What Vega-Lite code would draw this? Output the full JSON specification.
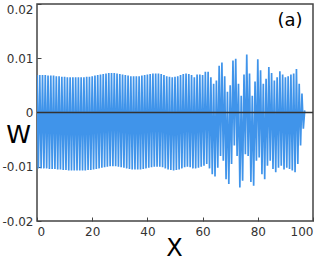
{
  "$schema": "https://vega.github.io/schema/vega-lite/v6.json",
  "width": 276,
  "height": 217,
  "autosize": "none",
  "padding": {"left": 37, "top": 4, "right": 14, "bottom": 45},
  "background": "white",
  "config": {"view": {"stroke": "#444444", "strokeWidth": 1.5}, "font": "DejaVu Sans"},
  "layer": [
    {
      "data": {"values": [
        {"x":0,"w":0.0069},{"x":0.5,"w":-0.0103},{"x":1,"w":0.0069},{"x":1.5,"w":-0.0103},
        {"x":2,"w":0.0069},{"x":2.5,"w":-0.0103},{"x":3,"w":0.0069},{"x":3.5,"w":-0.0103},
        {"x":4,"w":0.0068},{"x":4.5,"w":-0.0104},{"x":5,"w":0.0068},{"x":5.5,"w":-0.0104},
        {"x":6,"w":0.0068},{"x":6.5,"w":-0.0104},{"x":7,"w":0.0067},{"x":7.5,"w":-0.0105},
        {"x":8,"w":0.0067},{"x":8.5,"w":-0.0105},{"x":9,"w":0.0066},{"x":9.5,"w":-0.0106},
        {"x":10,"w":0.0066},{"x":10.5,"w":-0.0106},{"x":11,"w":0.0065},{"x":11.5,"w":-0.0107},
        {"x":12,"w":0.0065},{"x":12.5,"w":-0.0107},{"x":13,"w":0.0065},{"x":13.5,"w":-0.0107},
        {"x":14,"w":0.0065},{"x":14.5,"w":-0.0107},{"x":15,"w":0.0065},{"x":15.5,"w":-0.0107},
        {"x":16,"w":0.0065},{"x":16.5,"w":-0.0107},{"x":17,"w":0.0065},{"x":17.5,"w":-0.0107},
        {"x":18,"w":0.0066},{"x":18.5,"w":-0.0106},{"x":19,"w":0.0066},{"x":19.5,"w":-0.0106},
        {"x":20,"w":0.0067},{"x":20.5,"w":-0.0105},{"x":21,"w":0.0068},{"x":21.5,"w":-0.0104},
        {"x":22,"w":0.0069},{"x":22.5,"w":-0.0103},{"x":23,"w":0.0070},{"x":23.5,"w":-0.0102},
        {"x":24,"w":0.0071},{"x":24.5,"w":-0.0101},{"x":25,"w":0.0072},{"x":25.5,"w":-0.0100},
        {"x":26,"w":0.0073},{"x":26.5,"w":-0.0099},{"x":27,"w":0.0073},{"x":27.5,"w":-0.0099},
        {"x":28,"w":0.0073},{"x":28.5,"w":-0.0099},{"x":29,"w":0.0072},{"x":29.5,"w":-0.0100},
        {"x":30,"w":0.0071},{"x":30.5,"w":-0.0101},{"x":31,"w":0.0070},{"x":31.5,"w":-0.0102},
        {"x":32,"w":0.0069},{"x":32.5,"w":-0.0103},{"x":33,"w":0.0068},{"x":33.5,"w":-0.0104},
        {"x":34,"w":0.0067},{"x":34.5,"w":-0.0105},{"x":35,"w":0.0067},{"x":35.5,"w":-0.0105},
        {"x":36,"w":0.0067},{"x":36.5,"w":-0.0105},{"x":37,"w":0.0067},{"x":37.5,"w":-0.0105},
        {"x":38,"w":0.0068},{"x":38.5,"w":-0.0104},{"x":39,"w":0.0069},{"x":39.5,"w":-0.0103},
        {"x":40,"w":0.0070},{"x":40.5,"w":-0.0102},{"x":41,"w":0.0071},{"x":41.5,"w":-0.0101},
        {"x":42,"w":0.0072},{"x":42.5,"w":-0.0100},{"x":43,"w":0.0072},{"x":43.5,"w":-0.0100},
        {"x":44,"w":0.0072},{"x":44.5,"w":-0.0100},{"x":45,"w":0.0071},{"x":45.5,"w":-0.0101},
        {"x":46,"w":0.0069},{"x":46.5,"w":-0.0103},{"x":47,"w":0.0067},{"x":47.5,"w":-0.0105},
        {"x":48,"w":0.0066},{"x":48.5,"w":-0.0106},{"x":49,"w":0.0065},{"x":49.5,"w":-0.0107},
        {"x":50,"w":0.0066},{"x":50.5,"w":-0.0106},{"x":51,"w":0.0067},{"x":51.5,"w":-0.0105},
        {"x":52,"w":0.0069},{"x":52.5,"w":-0.0103},{"x":53,"w":0.0071},{"x":53.5,"w":-0.0101},
        {"x":54,"w":0.0072},{"x":54.5,"w":-0.0100},{"x":55,"w":0.0071},{"x":55.5,"w":-0.0101},
        {"x":56,"w":0.0069},{"x":56.5,"w":-0.0103},
        {"x":57,"w":0.0065},{"x":57.5,"w":-0.0103},{"x":58,"w":0.0070},{"x":58.5,"w":-0.0102},
        {"x":59,"w":0.0070},{"x":59.5,"w":-0.0100},{"x":60,"w":0.0069},{"x":60.5,"w":-0.0098},
        {"x":61,"w":0.0075},{"x":61.5,"w":-0.0095},{"x":62,"w":0.0075},{"x":62.5,"w":-0.0103},
        {"x":63,"w":0.0065},{"x":63.5,"w":-0.0114},{"x":64,"w":0.0053},{"x":64.5,"w":-0.0118},
        {"x":65,"w":0.0059},{"x":65.5,"w":-0.0102},{"x":66,"w":0.0086},{"x":66.5,"w":-0.0080},
        {"x":67,"w":0.0092},{"x":67.5,"w":-0.0089},{"x":68,"w":0.0067},{"x":68.5,"w":-0.0123},
        {"x":69,"w":0.0038},{"x":69.5,"w":-0.0132},{"x":70,"w":0.0050},{"x":70.5,"w":-0.0095},
        {"x":71,"w":0.0096},{"x":71.5,"w":-0.0061},{"x":72,"w":0.0099},{"x":72.5,"w":-0.0080},
        {"x":73,"w":0.0053},{"x":73.5,"w":-0.0138},{"x":74,"w":0.0031},{"x":74.5,"w":-0.0126},
        {"x":75,"w":0.0070},{"x":75.5,"w":-0.0077},{"x":76,"w":0.0107},{"x":76.5,"w":-0.0080},
        {"x":77,"w":0.0072},{"x":77.5,"w":-0.0128},{"x":78,"w":0.0031},{"x":78.5,"w":-0.0135},
        {"x":79,"w":0.0057},{"x":79.5,"w":-0.0089},{"x":80,"w":0.0098},{"x":80.5,"w":-0.0083},
        {"x":81,"w":0.0078},{"x":81.5,"w":-0.0114},{"x":82,"w":0.0053},{"x":82.5,"w":-0.0123},
        {"x":83,"w":0.0062},{"x":83.5,"w":-0.0098},{"x":84,"w":0.0084},{"x":84.5,"w":-0.0089},
        {"x":85,"w":0.0073},{"x":85.5,"w":-0.0104},{"x":86,"w":0.0059},{"x":86.5,"w":-0.0110},
        {"x":87,"w":0.0065},{"x":87.5,"w":-0.0102},{"x":88,"w":0.0076},{"x":88.5,"w":-0.0098},
        {"x":89,"w":0.0070},{"x":89.5,"w":-0.0105},{"x":90,"w":0.0065},{"x":90.5,"w":-0.0102},
        {"x":91,"w":0.0067},{"x":91.5,"w":-0.0104},{"x":92,"w":0.0070},{"x":92.5,"w":-0.0107},
        {"x":93,"w":0.0072},{"x":93.5,"w":-0.0110},{"x":94,"w":0.0080},{"x":94.5,"w":-0.0095},
        {"x":95,"w":0.0053},{"x":95.5,"w":-0.0061},{"x":96,"w":0.0035},{"x":96.5,"w":-0.0030},
        {"x":97,"w":0.0004}
      ]},
      "mark": {"type": "line", "color": "#4094ea", "strokeWidth": 1.7, "clip": true},
      "encoding": {
        "x": {
          "field": "x", "type": "quantitative",
          "scale": {"domain": [0, 100], "nice": false, "zero": false},
          "axis": {
            "values": [0, 20, 40, 60, 80, 100], "domain": false, "grid": false,
            "tickSize": -4, "tickColor": "#444444", "tickWidth": 1,
            "labelFontSize": 12, "labelColor": "#333333", "labelPadding": 9,
            "labelFont": "DejaVu Sans",
            "title": "X", "titleFontSize": 24, "titleFontWeight": "normal", "titleColor": "#000000",
            "titleFont": "DejaVu Sans",
            "titleX": 137, "titleY": 34, "titleBaseline": "alphabetic", "titleAlign": "center"
          }
        },
        "y": {
          "field": "w", "type": "quantitative",
          "scale": {"domain": [-0.02, 0.02], "nice": false, "zero": false},
          "axis": {
            "values": [-0.02, -0.01, 0, 0.01, 0.02], "domain": false, "grid": false,
            "tickSize": -4, "tickColor": "#444444", "tickWidth": 1,
            "labelFontSize": 12, "labelColor": "#333333", "labelPadding": 8,
            "labelFont": "DejaVu Sans",
            "labelExpr": "datum.value == 0 ? '0' : (datum.value < 0 ? '-' : '') + format(abs(datum.value), '.2f')",
            "labelBaseline": {"expr": "datum.value > 0.015 ? 'top' : 'middle'"},
            "title": "W", "titleAngle": 0, "titleFontSize": 25, "titleFontWeight": "normal", "titleColor": "#000000",
            "titleFont": "DejaVu Sans",
            "titleX": -19, "titleY": 138, "titleBaseline": "alphabetic", "titleAlign": "center"
          }
        }
      }
    },
    {
      "data": {"values": [{"w": 0}]},
      "mark": {"type": "rule", "color": "#333333", "strokeWidth": 1.5},
      "encoding": {"y": {"field": "w", "type": "quantitative"}}
    },
    {
      "data": {"values": [{"x": 91.7, "w": 0.0168, "label": "(a)"}]},
      "mark": {"type": "text", "fontSize": 18, "font": "DejaVu Sans", "fontWeight": "normal", "color": "#000000", "baseline": "middle", "align": "center"},
      "encoding": {
        "x": {"field": "x", "type": "quantitative"},
        "y": {"field": "w", "type": "quantitative"},
        "text": {"field": "label"}
      }
    }
  ]
}
